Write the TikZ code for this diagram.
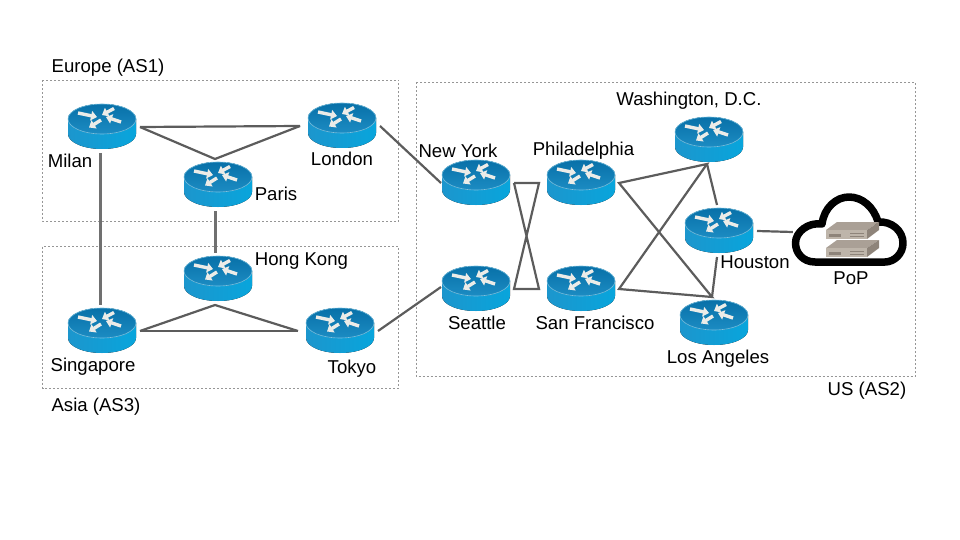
\documentclass[tikz,border=0pt]{standalone}
\usepackage{fontspec}
\setmainfont{Liberation Sans}
\usetikzlibrary{arrows.meta}

\definecolor{linkgray}{RGB}{92,92,92}
\definecolor{vlinkgray}{RGB}{112,112,112}
\definecolor{boxgray}{RGB}{150,150,150}
\definecolor{rtop}{RGB}{8,112,168}
\definecolor{rtoplight}{RGB}{28,140,195}
\definecolor{rrim}{RGB}{120,195,228}
\definecolor{rsideL}{RGB}{28,150,205}
\definecolor{rsideM}{RGB}{5,118,170}
\definecolor{rsideR}{RGB}{8,165,220}
\definecolor{rarrow}{RGB}{236,236,232}
\definecolor{srvfront}{RGB}{190,181,170}
\definecolor{srvtop}{RGB}{170,160,150}
\definecolor{srvside}{RGB}{142,132,122}

\tikzset{
  routernode/.style={minimum width=68pt,minimum height=46pt,inner sep=0pt,outer xsep=4pt,outer ysep=3pt},
  link/.style={draw=linkgray,line width=2.2pt},
  vlink/.style={draw=vlinkgray,line width=2.2pt},
  asbox/.style={draw=boxgray,line width=0.7pt,dash pattern=on 2pt off 2pt},
  lbl/.style={anchor=base,inner sep=0pt,font=\fontsize{18.6}{20}\selectfont,text=black},
  rarr/.style={draw=rarrow,line width=3.4pt,-{Triangle[length=6pt,width=9.5pt]}},
  router/.pic={
    \fill[left color=rsideL,middle color=rsideM,right color=rsideR] (-34,-8) -- (-34,7)
      arc[start angle=180,end angle=360,x radius=34pt,y radius=15pt] -- (34,-8)
      arc[start angle=0,end angle=180,x radius=34pt,y radius=15pt] -- cycle;
    \fill[top color=rtop,bottom color=rtoplight,draw=rrim,line width=0.6pt] (0,-8) ellipse [x radius=34pt,y radius=15pt];
    \draw[rarr] (-24,-14) -- (-5,-10);
    \draw[rarr] (12,-18.5) -- (0,-12);
    \draw[rarr] (19,-5) -- (4,-10);
    \draw[rarr] (-1,-7) -- (-13,0.5);
  },
  serverbox/.pic={
    \fill[srvtop] (0,0) -- (11,-8) -- (53,-8) -- (41,0) -- cycle;
    \fill[srvside] (41,0) -- (53,-8) -- (53,0) -- (41,9) -- cycle;
    \fill[srvfront] (0,0) rectangle (41,9);
    \fill[srvside] (3,4) rectangle (15,7);
    \draw[srvside,line width=0.6pt] (24,3) -- (38,3) (24,6) -- (38,6);
  }
}

\begin{document}
\begin{tikzpicture}[x=1pt,y=-1pt]
\useasboundingbox (0,0) rectangle (960,540);

% AS boxes
\draw[asbox] (42.5,80.5) rectangle (398.5,221);
\draw[asbox] (42.5,246.5) rectangle (398.5,388);
\draw[asbox] (416,82.5) rectangle (915.5,376);

% routers
\foreach \name/\x/\y in {milan/102/127,london/342/126,paris/218/185,hongkong/218/279,
  singapore/102/331,tokyo/340/331,newyork/476/183,seattle/476/289,philadelphia/581/183,
  sanfrancisco/581/289,washington/709/140,houston/719/231,losangeles/714/323}{
  \node[routernode] (\name) at (\x,\y) {};
  \pic at (\name) {router};
}

% PoP
\node[inner sep=0pt,minimum width=112pt,minimum height=68pt] (pop) at (849,232) {};
\draw[black,line width=7.5pt,line join=round]
  (815,262) .. controls (803,262) and (795.5,253) .. (795.5,243)
  .. controls (795.5,232) and (808,222) .. (822,224)
  .. controls (824,208) and (836,197) .. (849,197)
  .. controls (862,197) and (874,207) .. (878,222)
  .. controls (892,221) and (903,231) .. (903,243)
  .. controls (903,254) and (894,262) .. (885,262) -- cycle;
\pic at (826,230) {serverbox};
\pic at (826,248) {serverbox};

% links
\draw[link] (milan.east) -- ([xshift=-4pt]london.west);
\draw[link] (milan.east) -- ([xshift=-3pt]paris.north) -- ([xshift=-4pt]london.west);
\draw[vlink] ([xshift=-1.5pt]milan.south) -- ([xshift=-1.5pt]singapore.north);
\draw[vlink] ([xshift=-2.5pt]paris.south) -- ([xshift=-2.5pt]hongkong.north);
\draw[link] (singapore.east) -- ([xshift=-4pt]tokyo.west);
\draw[link] (singapore.east) -- ([xshift=-3pt]hongkong.south) -- ([xshift=-4pt]tokyo.west);
\draw[link] (london.east) -- ([xshift=3pt]newyork.west);
\draw[link] (tokyo.east) -- ([xshift=3pt,yshift=2pt]seattle.west);
\draw[link] (newyork.east) -- ([xshift=-4pt]philadelphia.west) -- (seattle.east) -- ([xshift=-4pt]sanfrancisco.west) -- (newyork.east);
\draw[link] (philadelphia.east) -- ([xshift=-2pt,yshift=2pt]washington.south) -- (sanfrancisco.east) -- ([xshift=-2pt]losangeles.north) -- cycle;
\draw[link] ([xshift=-2pt,yshift=2pt]washington.south) -- ([xshift=-2pt]houston.north);
\draw[link] ([xshift=-2pt]houston.south) -- ([xshift=-2pt]losangeles.north);
\draw[link] (houston.east) -- (pop.west);

% labels
\foreach \name/\x/\y/\txt in {lmilan/70/167.5/Milan,llondon/342/165/London,lparis/276/200.5/Paris,
  lhongkong/301.5/265/Hong Kong,lsingapore/93/371/Singapore,ltokyo/352/373/Tokyo,
  lnewyork/458/157.5/New York,lseattle/477/329/Seattle,lphiladelphia/583.5/155.5/Philadelphia,
  lsanfrancisco/595/329/San Francisco,lwashington/689/106/{Washington, D.C.},
  lhouston/755/268/Houston,llosangeles/718/363/Los Angeles,lpop/851/284/PoP,
  leurope/108/72.5/Europe (AS1),lasia/96/411.5/Asia (AS3),lus/867/395/US (AS2)}{
  \node[lbl] (\name) at (\x,\y) {\txt};
}
\end{tikzpicture}
\end{document}
